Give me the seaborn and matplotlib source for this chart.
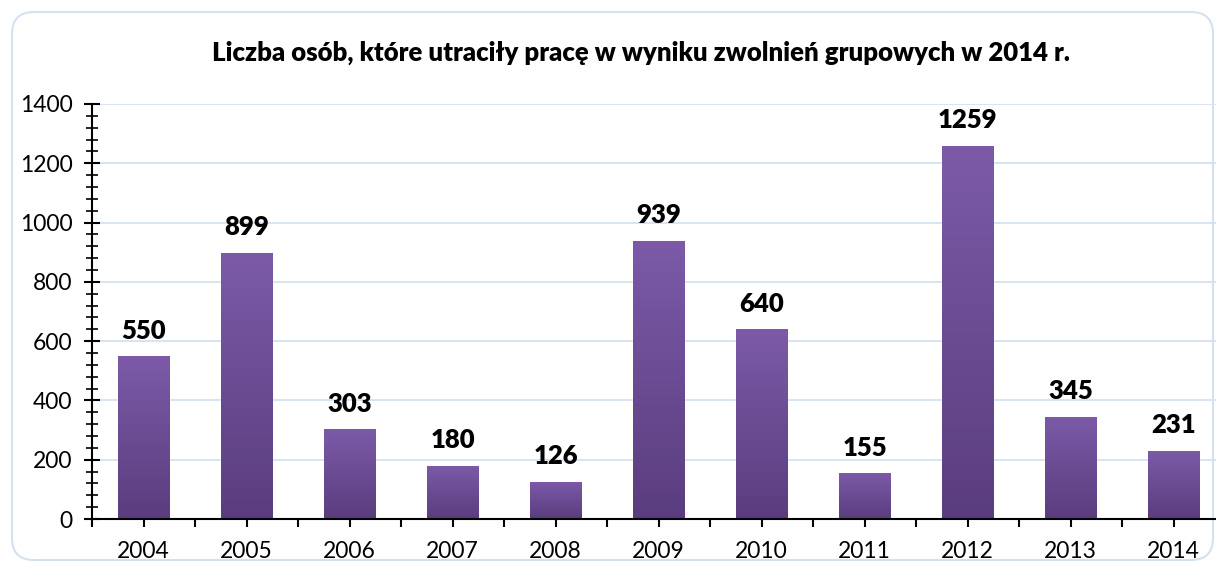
import matplotlib
matplotlib.use("Agg")
import matplotlib.pyplot as plt
import numpy as np
import pandas as pd
import seaborn as sns
from matplotlib.patches import FancyBboxPatch
from matplotlib.ticker import MultipleLocator, FixedLocator

# dane
years = ["2004", "2005", "2006", "2007", "2008", "2009", "2010", "2011", "2012", "2013", "2014"]
persons = [550, 899, 303, 180, 126, 939, 640, 155, 1259, 345, 231]
title = "Liczba osób, które utraciły pracę w wyniku zwolnień grupowych w 2014 r."

df = pd.DataFrame({"rok": years, "osoby": persons})

sns.set_style("white")
plt.rcParams["font.family"] = ["Lato", "DejaVu Sans"]

fig = plt.figure(figsize=(12.16, 5.64), dpi=100)

ax = fig.add_axes([92 / 1216, 45 / 564, 1133 / 1216, 415 / 564])
ax.patch.set_alpha(0)

# ramka wykresu
frame = FancyBboxPatch((12 / 1216, 4 / 564), 1201 / 1216, 548 / 564,
                       boxstyle="round,pad=0,rounding_size=0.018",
                       transform=fig.transFigure, facecolor="none",
                       edgecolor="#d4e1f2", linewidth=1.5, zorder=-1,
                       mutation_aspect=1216 / 564)
fig.patches.append(frame)

sns.barplot(data=df, x="rok", y="osoby", color="#6b4c93", width=0.5, ax=ax, zorder=3)

# gradient na slupkach
grad = np.linspace(0, 1, 256).reshape(-1, 1)
cmap = matplotlib.colors.LinearSegmentedColormap.from_list("fiolet", ["#5a3d7e", "#7c5aa8"])
for bar in ax.patches:
    x0, y0 = bar.get_x(), bar.get_y()
    w, h = bar.get_width(), bar.get_height()
    im = ax.imshow(grad, extent=[x0, x0 + w, y0, y0 + h], origin="lower",
                   cmap=cmap, aspect="auto", zorder=4)
    im.set_clip_path(bar)
    ax.text(x0 + w / 2, h + 45, str(int(h)), ha="center", va="bottom",
            fontsize=18.5, fontweight="heavy", color="black", zorder=5)

ax.set_xlim(-0.5, len(years) - 0.5)
ax.set_ylim(0, 1400)
ax.yaxis.set_major_locator(MultipleLocator(200))
ax.yaxis.set_minor_locator(MultipleLocator(40))
ax.xaxis.set_minor_locator(FixedLocator(np.arange(-0.5, len(years), 1.0)))

ax.grid(axis="y", color="#d4e1f2", linewidth=1.3, zorder=0)
ax.grid(axis="x", visible=False)

for s in ["top", "right"]:
    ax.spines[s].set_visible(False)
for s in ["left", "bottom"]:
    ax.spines[s].set_color("black")
    ax.spines[s].set_linewidth(1.5)
    ax.spines[s].set_zorder(6)

ax.tick_params(axis="y", which="major", direction="inout", length=12, width=1.5,
               labelsize=16.5, pad=8, left=True, colors="black")
ax.tick_params(axis="y", which="minor", direction="inout", length=8, width=1.2,
               left=True, colors="black")
ax.tick_params(axis="x", which="both", direction="out", length=6, width=1.5,
               labelsize=16.5, pad=10, bottom=True, colors="black")

ax.set_xlabel("")
ax.set_ylabel("")

fig.text(641 / 1216, 1 - 53 / 564, title, ha="center", va="center",
         fontsize=18.5, fontweight="heavy", color="black")

fig.savefig("out.png", dpi=100)
